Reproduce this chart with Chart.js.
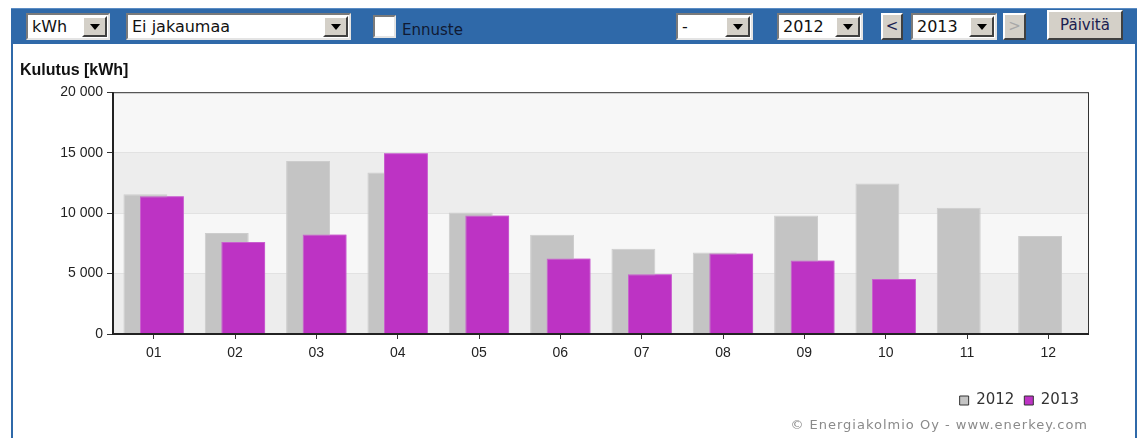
<!DOCTYPE html>
<html>
<head>
<meta charset="utf-8">
<script src="https://cdn.jsdelivr.net/npm/chart.js@4"></script>
<style>
  body { margin: 0; background: #fff; width: 1139px; height: 438px; overflow: hidden; position: relative; font-family: "DejaVu Sans", Verdana, sans-serif; }
  #frame { position: absolute; left: 11px; top: 8px; width: 1122px; height: 440px; border-left: 2px solid #2f69a9; border-right: 2px solid #2f69a9; }
  #toolbar { position: absolute; left: 11px; top: 8px; width: 1126px; height: 36px; background: #2f69a9; border-top: 1px solid #5b8cc4; box-sizing: border-box; }
  .sel { position: absolute; height: 27px; top: 13px; background: #fff; box-sizing: border-box; border: 2px solid; border-color: #7a7a7a #e4e4e4 #e4e4e4 #7a7a7a; font-size: 16px; line-height: 23px; padding-left: 4px; color: #111; }
  .sel i { position: absolute; right: 1px; top: 1px; width: 25px; height: 21px; box-sizing: border-box; background: #d4d0c8; border: 2px solid; border-color: #fff #404040 #404040 #fff; }
  .sel i:after { content: ""; position: absolute; left: 6px; top: 6px; border-left: 5px solid transparent; border-right: 5px solid transparent; border-top: 6px solid #000; }
  .btn { position: absolute; box-sizing: border-box; background: #d4d0c8; border: 2px solid; border-color: #fff #404040 #404040 #fff; text-align: center; color: #1a2050; }
  #chk { position: absolute; left: 373px; top: 15px; width: 23px; height: 23px; box-sizing: border-box; background: #fff; border: 2px solid; border-color: #7a7a7a #e4e4e4 #e4e4e4 #7a7a7a; }
  #ennuste { position: absolute; left: 402px; top: 21px; font-size: 15px; color: #101a33; }
  #wrap { position: absolute; left: 12px; top: 45px; }
  #credit { position: absolute; right: 51px; top: 417px; font-size: 13px; letter-spacing: 1px; color: #8a8a8a; }
</style>
</head>
<body>
<div id="frame"></div>
<div id="toolbar"></div>
<div class="sel" style="left:26px;width:84px">kWh<i></i></div>
<div class="sel" style="left:126px;width:225px">Ei jakaumaa<i></i></div>
<div id="chk"></div>
<div id="ennuste">Ennuste</div>
<div class="sel" style="left:676px;width:77px">-<i></i></div>
<div class="sel" style="left:777px;width:86px">2012<i></i></div>
<div class="btn" style="left:881px;top:13px;width:22px;height:27px;line-height:23px;font-size:15px">&lt;</div>
<div class="sel" style="left:911px;width:86px">2013<i></i></div>
<div class="btn" style="left:1003px;top:13px;width:23px;height:27px;line-height:23px;font-size:15px;color:#a8a8a8">&gt;</div>
<div class="btn" style="left:1047px;top:10px;width:76px;height:30px;line-height:26px;font-size:15px">Päivitä</div>
<div id="wrap"><canvas id="kulutus" width="1124" height="375"></canvas></div>
<div id="credit">© Energiakolmio Oy - www.enerkey.com</div>

<script>
const kuukaudet = ["01", "02", "03", "04", "05", "06", "07", "08", "09", "10", "11", "12"];
const vuodet = ["2012", "2013"];
const kulutus2012 = [11550, 8350, 14300, 13350, 10050, 8200, 7050, 6750, 9800, 12450, 10450, 8100];
const kulutus2013 = [11400, 7600, 8230, 14950, 9800, 6250, 4950, 6650, 6080, 4550, null, null];
const yTicks = [0, 5000, 10000, 15000, 20000];

const kulutusCanvas = document.getElementById("kulutus");

// thousands with a space: 20 000
const fiNumber = v => String(v).replace(/\B(?=(\d{3})+(?!\d))/g, " ");

// alternating bands behind the grid, magenta on top, dark frame
const plotDecor = {
  id: "plotDecor",
  beforeDraw(chart) {
    const {ctx, chartArea: a, scales: {y}} = chart;
    ctx.save();
    for (let i = 0; i < yTicks.length - 1; i++) {
      const top = y.getPixelForValue(yTicks[i + 1]);
      const bottom = y.getPixelForValue(yTicks[i]);
      ctx.fillStyle = i % 2 === 0 ? "#ededed" : "#f7f7f7";
      ctx.fillRect(a.left, top, a.right - a.left, bottom - top);
    }
    ctx.restore();
  },
  afterDatasetsDraw(chart) {
    chart.getDatasetMeta(1).controller.draw();
    const {ctx, chartArea: a} = chart;
    ctx.save();
    ctx.strokeStyle = "#333";
    ctx.lineWidth = 1;
    ctx.strokeRect(a.left + 0.5, a.top + 0.5, a.right - a.left - 1, a.bottom - a.top);
    ctx.strokeStyle = "#222";
    ctx.lineWidth = 2;
    ctx.beginPath();
    ctx.moveTo(a.left, a.top);
    ctx.lineTo(a.left, a.bottom);
    ctx.lineTo(a.right, a.bottom);
    ctx.stroke();
    ctx.restore();
  }
};

let kulutusChart = new Chart(kulutusCanvas, {
  type: "bar",
  data: {
    labels: kuukaudet,
    datasets: [{
      label: vuodet[0],
      data: kulutus2012,
      backgroundColor: "#c4c4c4",
      borderColor: "#cdcdcd",
      borderWidth: 1
    }, {
      label: vuodet[1],
      data: kulutus2013,
      backgroundColor: "#bd33c4",
      borderColor: "#c95fcf",
      borderWidth: 1
    }]
  },
  options: {
    responsive: false,
    animation: false,
    categoryPercentage: 0.406,
    barPercentage: 2.66,
    layout: {
      padding: {left: 8, right: 47, top: 0, bottom: 2}
    },
    scales: {
      x: {
        afterFit: s => { s.height = 49; },
        border: {display: false},
        grid: {offset: false, drawOnChartArea: false, tickLength: 5, tickColor: "#333"},
        ticks: {color: "#222", padding: 6, font: {family: "Liberation Sans, Arial", size: 14}}
      },
      y: {
        min: 0,
        max: 20000,
        afterFit: s => { s.width = 93; },
        border: {display: false},
        grid: {color: "#e2e2e2", tickColor: "#333", tickLength: 6},
        ticks: {
          stepSize: 5000,
          padding: 4,
          color: "#222",
          font: {family: "Liberation Sans, Arial", size: 14},
          callback: v => fiNumber(v)
        }
      }
    },
    plugins: {
      title: {
        display: true,
        text: "Kulutus [kWh]",
        align: "start",
        color: "#111",
        font: {family: "Liberation Sans, Arial", size: 16, weight: "bold"},
        padding: {top: 16, bottom: 12}
      },
      legend: {
        position: "bottom",
        align: "end",
        labels: {
          boxWidth: 9,
          boxHeight: 9,
          color: "#333",
          font: {family: "DejaVu Sans", size: 15},
          generateLabels: chart => Chart.defaults.plugins.legend.labels.generateLabels(chart).map(l => {
            l.strokeStyle = "#333";
            l.lineWidth = 1;
            return l;
          })
        }
      },
      tooltip: {enabled: false}
    }
  },
  plugins: [plotDecor]
});
</script>
</body>
</html>
